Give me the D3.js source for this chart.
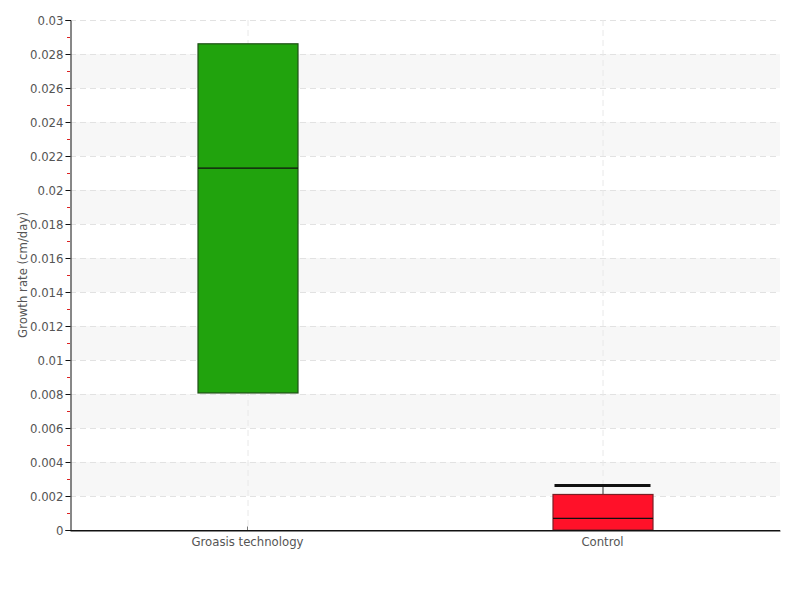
<!DOCTYPE html>
<html><head><meta charset="utf-8">
<script src="https://cdn.jsdelivr.net/npm/d3@7"></script>
<style>body{margin:0;background:#fff}text{font-family:"DejaVu Sans Condensed","Liberation Sans Narrow",sans-serif;}</style>
</head><body><svg id="c" width="800" height="600"></svg>
<script>
const categories = ["Groasis technology", "Control"];
const q1 = [0.00806, 0.0];
const medians = [0.02129, 0.00068];
const q3 = [0.0286, 0.00209];
const whiskerLow = [0.00806, 0.0];
const whiskerHigh = [0.0286, 0.00262];
const fills = ["#21a30d", "#ff1129"];
const strokes = ["#1f4f16", "#7a1f25"];
const yTicks = [0,0.002,0.004,0.006,0.008,0.01,0.012,0.014,0.016,0.018,0.02,0.022,0.024,0.026,0.028,0.03];
const yTickLabels = ["0","0.002","0.004","0.006","0.008","0.01","0.012","0.014","0.016","0.018","0.02","0.022","0.024","0.026","0.028","0.03"];

const svg = d3.select("#c");
const m = {l:70, r:20, t:20, b:70};
const W = 800, H = 600;
const x = d3.scaleBand().domain(categories).range([m.l, W-m.r]);
const y = d3.scaleLinear().domain([0, 0.03]).range([H-m.b, m.t]);

// bands
const g = svg.append("g");
for (let i = 1; i < yTicks.length-1; i += 2) {
  g.append("rect").attr("x", m.l).attr("width", W-m.r-m.l)
    .attr("y", y(yTicks[i+1])).attr("height", y(yTicks[i]) - y(yTicks[i+1]))
    .attr("fill", "#f7f7f7");
}
// horizontal grid
g.selectAll("line.hg").data(yTicks.slice(1)).join("line")
  .attr("x1", m.l).attr("x2", W-m.r).attr("y1", d=>y(d)+0.5).attr("y2", d=>y(d)+0.5)
  .attr("stroke", "#e2e2e2").attr("stroke-dasharray", "6,4");
// vertical grid
g.selectAll("line.vg").data(categories).join("line")
  .attr("x1", d=>x(d)+x.bandwidth()/2+0.5).attr("x2", d=>x(d)+x.bandwidth()/2+0.5)
  .attr("y1", m.t).attr("y2", H-m.b)
  .attr("stroke", "#e8e8e8").attr("stroke-dasharray", "6,4");

// minor ticks
const minor = d3.range(0.001, 0.03, 0.002);
svg.selectAll("line.mt").data(minor).join("line")
  .attr("x1", m.l-3).attr("x2", m.l).attr("y1", d=>Math.round(y(d))+0.5).attr("y2", d=>Math.round(y(d))+0.5)
  .attr("stroke", "#d22");

// y axis
const ya = svg.append("g").attr("transform", `translate(${m.l+0.5},0)`)
  .call(d3.axisLeft(y).tickValues(yTicks).tickFormat((d,i)=>yTickLabels[i]).tickSize(5).tickPadding(2));
ya.select(".domain").attr("stroke", "#111");
ya.selectAll(".tick line").attr("stroke", "#111");
ya.selectAll(".tick text").attr("fill", "#555").style("font-size", "13px");

// x axis
const xa = svg.append("g").attr("transform", `translate(0,${H-m.b+0.5})`)
  .call(d3.axisBottom(x).tickSize(4).tickSizeOuter(0).tickPadding(2));
xa.select(".domain").attr("stroke", "#111");
xa.selectAll(".tick line").attr("stroke", "#777").attr("transform","translate(0,-4)");
xa.selectAll(".tick text").attr("fill", "#555").style("font-size", "13px");

// boxes
const bw = 100;
categories.forEach((c, i) => {
  const cx = x(c) + x.bandwidth()/2;
  // whisker
  if (whiskerHigh[i] > q3[i]) {
    svg.append("line").attr("x1", cx+0.5).attr("x2", cx+0.5).attr("y1", y(whiskerHigh[i])).attr("y2", y(q3[i]))
      .attr("stroke", "#777").attr("stroke-width", 1.5);
    svg.append("line").attr("x1", cx-48).attr("x2", cx+48).attr("y1", y(whiskerHigh[i])).attr("y2", y(whiskerHigh[i]))
      .attr("stroke", "#111").attr("stroke-width", 3);
  }
  svg.append("rect").attr("x", cx-bw/2+0.5).attr("width", bw)
    .attr("y", y(q3[i])).attr("height", y(q1[i]) - y(q3[i]))
    .attr("fill", fills[i]).attr("stroke", strokes[i]).attr("stroke-width", 1.2);
  svg.append("line").attr("x1", cx-bw/2+0.5).attr("x2", cx+bw/2+0.5)
    .attr("y1", y(medians[i])).attr("y2", y(medians[i]))
    .attr("stroke", "#111").attr("stroke-width", 1.2);
});
// redraw x domain on top
svg.append("line").attr("x1", m.l).attr("x2", W-m.r).attr("y1", H-m.b+0.5).attr("y2", H-m.b+0.5).attr("stroke","#111");

// y label
svg.append("text").attr("transform", `translate(27,${(m.t+H-m.b)/2}) rotate(-90)`)
  .attr("text-anchor", "middle").attr("fill", "#555").style("font-size", "13px")
  .text("Growth rate (cm/day)");
</script></body></html>
